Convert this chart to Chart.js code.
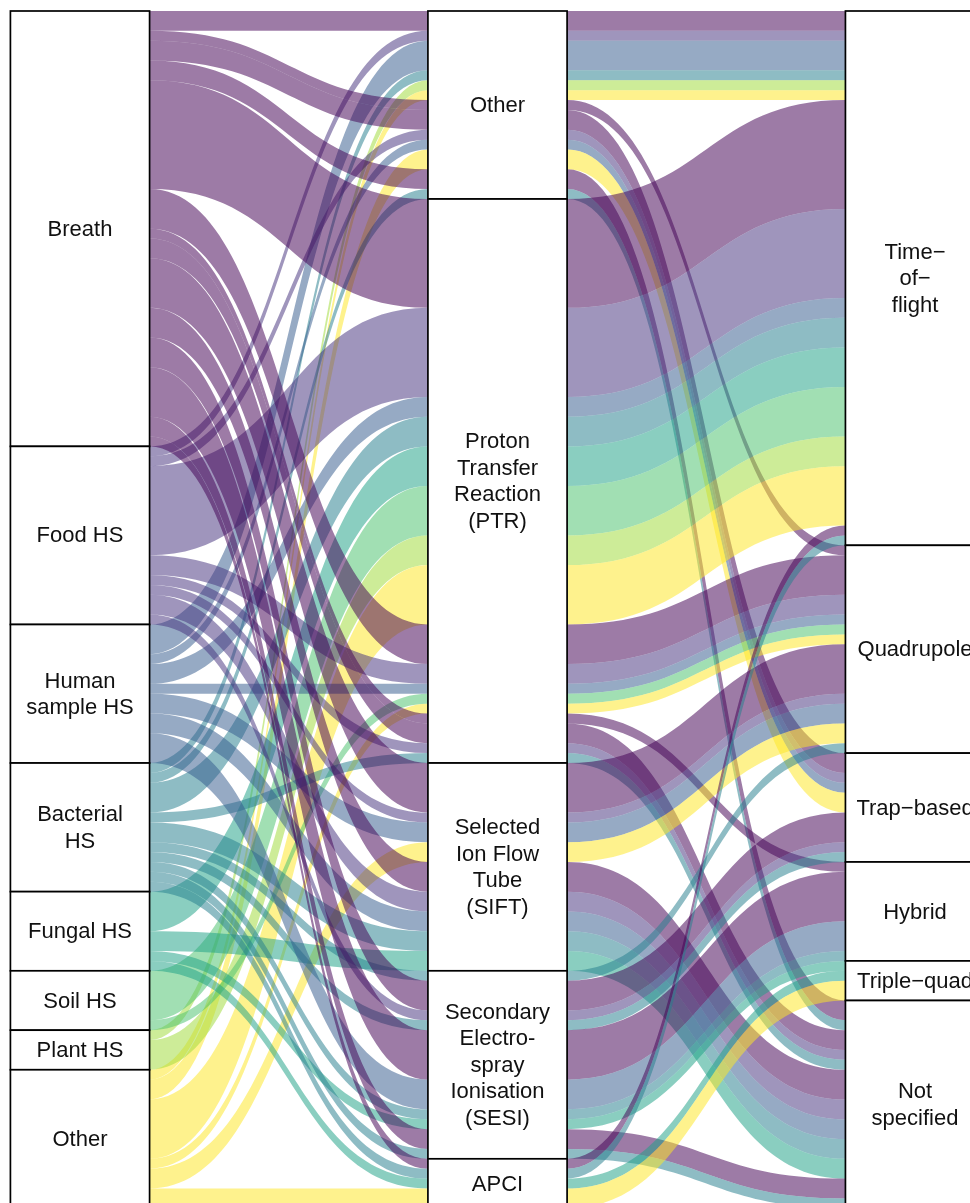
<!DOCTYPE html>
<html><head><meta charset="utf-8">
<script src="https://cdn.jsdelivr.net/npm/chart.js@4.4.1/dist/chart.umd.min.js"></script>
<style>html,body{margin:0;padding:0;background:#fff;}#wrap{width:970px;height:1203px;position:relative;}</style>
</head><body><div id="wrap"><canvas id="c"></canvas></div>
<script>
// ---- categories (strata, top to bottom) ----
const sampleTypes = ['Breath','Food HS','Human sample HS','Bacterial HS','Fungal HS','Soil HS','Plant HS','Other'];
const ionisationTypes = ['Other','PTR','SIFT','SESI','APCI'];
const analyserTypes = ['Time-of-flight','Quadrupole','Trap-based','Hybrid','Triple-quad','Not specified'];

// ---- stratum labels ----
const sampleLabels = [['Breath'],['Food HS'],['Human','sample HS'],['Bacterial','HS'],['Fungal HS'],['Soil HS'],['Plant HS'],['Other']];
const ionisationLabels = [['Other'],['Proton','Transfer','Reaction','(PTR)'],['Selected','Ion Flow','Tube','(SIFT)'],['Secondary','Electro-','spray','Ionisation','(SESI)'],['APCI']];
const analyserLabels = [['Time\u2212','of\u2212','flight'],['Quadrupole'],['Trap\u2212based'],['Hybrid'],['Triple\u2212quad'],['Not','specified']];

// ---- alluvia: sample type -> ionisation -> mass analyser, with counts ----
const flowSample = [
 'Breath','Food HS','Human sample HS','Bacterial HS','Plant HS','Other',
 'Breath',
 'Breath','Food HS','Human sample HS','Other',
 'Breath','Bacterial HS',
 'Breath','Food HS','Human sample HS','Bacterial HS','Fungal HS','Soil HS','Plant HS','Other',
 'Breath','Food HS','Human sample HS','Soil HS','Other',
 'Breath',
 'Breath','Food HS','Bacterial HS',
 'Breath','Food HS','Human sample HS','Other',
 'Breath','Food HS','Human sample HS','Bacterial HS','Fungal HS',
 'Bacterial HS',
 'Breath','Food HS','Bacterial HS',
 'Breath','Human sample HS','Bacterial HS',
 'Fungal HS',
 'Breath','Bacterial HS',
 'Breath','Bacterial HS',
 'Fungal HS','Other'
];
const flowIonisation = [
 'Other','Other','Other','Other','Other','Other',
 'Other',
 'Other','Other','Other','Other',
 'Other','Other',
 'PTR','PTR','PTR','PTR','PTR','PTR','PTR','PTR',
 'PTR','PTR','PTR','PTR','PTR',
 'PTR',
 'PTR','PTR','PTR',
 'SIFT','SIFT','SIFT','SIFT',
 'SIFT','SIFT','SIFT','SIFT','SIFT',
 'SESI',
 'SESI','SESI','SESI',
 'SESI','SESI','SESI',
 'SESI',
 'SESI','SESI',
 'APCI','APCI',
 'APCI','APCI'
];
const flowAnalyser = [
 'Time-of-flight','Time-of-flight','Time-of-flight','Time-of-flight','Time-of-flight','Time-of-flight',
 'Quadrupole',
 'Trap-based','Trap-based','Trap-based','Trap-based',
 'Not specified','Not specified',
 'Time-of-flight','Time-of-flight','Time-of-flight','Time-of-flight','Time-of-flight','Time-of-flight','Time-of-flight','Time-of-flight',
 'Quadrupole','Quadrupole','Quadrupole','Quadrupole','Quadrupole',
 'Hybrid',
 'Not specified','Not specified','Not specified',
 'Quadrupole','Quadrupole','Quadrupole','Quadrupole',
 'Not specified','Not specified','Not specified','Not specified','Not specified',
 'Quadrupole',
 'Trap-based','Trap-based','Trap-based',
 'Hybrid','Hybrid','Hybrid',
 'Triple-quad',
 'Not specified','Not specified',
 'Time-of-flight','Time-of-flight',
 'Triple-quad','Triple-quad'
];
const flowCount = [
 2,1,3,1,1,1,
 1,
 2,1,1,2,
 2,1,
 11,9,2,3,4,5,3,6,
 4,2,1,1,1,
 1,
 2,1,1,
 5,1,2,2,
 3,2,2,2,2,
 1,
 3,1,1,
 5,3,1,
 1,
 2,1,
 1,1,
 1,2
];

// fill palette by sample type (viridis, 8 levels)
const sampleColours = ['#440154','#46337E','#365C8D','#277F8E','#1FA187','#4AC16D','#9FDA3A','#FDE725'];
const flowAlpha = 0.52;

function rgba(hex,a){const v=parseInt(hex.slice(1),16);return `rgba(${(v>>16)&255},${(v>>8)&255},${v&255},${a})`;}

const levelSets = [sampleTypes, ionisationTypes, analyserTypes];
const labelSets = [sampleLabels, ionisationLabels, analyserLabels];
const flowKeys = [flowSample, flowIonisation, flowAnalyser].map((arr,k)=>arr.map(v=>levelSets[k].indexOf(v)));
const nFlows = flowCount.length;
// lode ordering at each axis (zigzag): axis1: 1,2,3 ; axis2: 2,3,1 ; axis3: 3,2,1
const orderings = [[0,1,2],[1,2,0],[2,1,0]];
const lodeTop = [[],[],[]];
const strata = [[],[],[]];
for (let k=0;k<3;k++){
  const idx=[...Array(nFlows).keys()].sort((a,b)=>{for(const o of orderings[k]){const d=flowKeys[o][a]-flowKeys[o][b];if(d)return d;}return a-b;});
  let cum=0; for(const i of idx){lodeTop[k][i]=cum;cum+=flowCount[i];}
  let s=0; levelSets[k].forEach((lv,j)=>{let t=0;for(let i=0;i<nFlows;i++) if(flowKeys[k][i]===j) t+=flowCount[i]; strata[k].push({start:s,end:s+t,label:labelSets[k][j]}); s+=t;});
}
const stratumWidth = 1/3;

const alluvialPlugin = {
  id:'alluvial',
  beforeDatasetsDraw(chart){
    const {ctx, scales:{x,y}} = chart;
    ctx.save();
    for(let i=0;i<nFlows;i++){
      const xs=[1,2,3];
      const tops=[0,1,2].map(k=>y.getPixelForValue(lodeTop[k][i]));
      const bots=[0,1,2].map(k=>y.getPixelForValue(lodeTop[k][i]+flowCount[i]));
      const L=xs.map(v=>x.getPixelForValue(v-stratumWidth/2));
      const R=xs.map(v=>x.getPixelForValue(v+stratumWidth/2));
      ctx.beginPath();
      ctx.moveTo(L[0],tops[0]); ctx.lineTo(R[0],tops[0]);
      for(let k=0;k<2;k++){const m=(R[k]+L[k+1])/2; ctx.bezierCurveTo(m,tops[k],m,tops[k+1],L[k+1],tops[k+1]); ctx.lineTo(R[k+1],tops[k+1]);}
      ctx.lineTo(R[2],bots[2]); ctx.lineTo(L[2],bots[2]);
      for(let k=2;k>0;k--){const m=(R[k-1]+L[k])/2; ctx.bezierCurveTo(m,bots[k],m,bots[k-1],R[k-1],bots[k-1]); ctx.lineTo(L[k-1],bots[k-1]);}
      ctx.closePath();
      ctx.fillStyle=rgba(sampleColours[flowKeys[0][i]],flowAlpha);
      ctx.fill();
    }
    ctx.restore();
  },
  afterDatasetsDraw(chart){
    const {ctx, scales:{x,y}} = chart;
    ctx.save();
    ctx.lineWidth=1.7; ctx.strokeStyle='#000';
    ctx.font='22px "Liberation Sans", Arial, sans-serif';
    ctx.textAlign='center'; ctx.textBaseline='middle';
    strata.forEach((list,k)=>{
      const cx=k+1;
      const l=x.getPixelForValue(cx-stratumWidth/2), r=x.getPixelForValue(cx+stratumWidth/2);
      list.forEach(s=>{
        const t=y.getPixelForValue(s.start), b=y.getPixelForValue(s.end);
        ctx.fillStyle='#fff'; ctx.fillRect(l,t,r-l,b-t);
        ctx.strokeRect(l,t,r-l,b-t);
      });
      list.forEach(s=>{
        const t=y.getPixelForValue(s.start), b=y.getPixelForValue(s.end);
        const cy=(t+b)/2+1, lh=26.5, n=s.label.length;
        ctx.fillStyle='#111';
        s.label.forEach((line,j)=>ctx.fillText(line,x.getPixelForValue(cx),cy+(j-(n-1)/2)*lh));
      });
    });
    ctx.restore();
  }
};

new Chart(document.getElementById('c'),{
  type:'scatter',
  data:{datasets:[{data:[],pointRadius:0}]},
  options:{
    responsive:true, maintainAspectRatio:false, animation:false,
    layout:{padding:0},
    plugins:{legend:{display:false},tooltip:{enabled:false}},
    scales:{
      x:{type:'linear',display:false,min:0.8084,max:3.1317},
      y:{type:'linear',display:false,reverse:true,min:-1.1117,max:120.465}
    }
  },
  plugins:[alluvialPlugin]
});
</script></body></html>
